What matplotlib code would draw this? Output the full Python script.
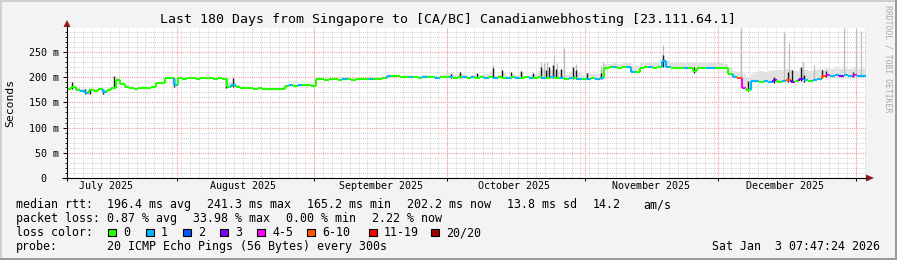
import numpy as np
import matplotlib
matplotlib.use('Agg')
import matplotlib.pyplot as plt
from matplotlib.collections import LineCollection
from matplotlib.patches import Polygon, Rectangle
import datetime as dt

W, H = 897, 260
MONO = 'DejaVu Sans Mono'

title = "Last 180 Days from Singapore to [CA/BC] Canadianwebhosting [23.111.64.1]"
end_time = dt.datetime(2026, 1, 3, 7, 47, 24)
n_days = 180
start_time = end_time - dt.timedelta(days=n_days)

# daily median rtt (ms)
median_ms = [
    176, 180, 175, 172, 168, 175, 173, 176, 170, 174, 178, 195, 186, 181, 179, 177, 178, 179, 178, 180,
    189, 189, 198, 199, 184, 198, 197, 198, 198, 197, 198, 199, 198, 197, 198, 197, 180, 184, 181, 179,
    178, 178, 177, 178, 177, 176, 177, 176, 177, 182, 184, 183, 184, 185, 184, 183, 196, 196, 195, 196,
    196, 195, 196, 196, 195, 196, 196, 197, 196, 196, 197, 198, 203, 203, 202, 200, 201, 200, 200, 199,
    200, 201, 200, 199, 200, 201, 200, 199, 201, 200, 199, 200, 199, 201, 199, 200, 198, 200, 199, 198,
    200, 199, 198, 200, 199, 198, 200, 199, 198, 200, 199, 198, 197, 198, 199, 197, 196, 197, 198, 197,
    198, 219, 220, 220, 219, 220, 220, 210, 211, 219, 220, 220, 219, 220, 232, 221, 219, 219, 218, 219,
    219, 212, 219, 219, 218, 219, 219, 219, 218, 206, 201, 199, 178, 175, 193, 192, 191, 193, 190, 194,
    191, 193, 195, 190, 193, 196, 194, 193, 195, 197, 203, 204, 203, 204, 203, 204, 203, 204, 203, 203,
]

# daily upper edge of the light smoke band (ms)
smoke_ms = [
    179, 182, 178, 176, 173, 178, 176, 178, 174, 177, 181, 198, 190, 184, 182, 180, 181, 182, 181, 183,
    191, 191, 201, 201, 199, 200, 200, 200, 200, 199, 200, 201, 200, 199, 200, 199, 190, 188, 184, 182,
    180, 180, 179, 180, 179, 178, 179, 178, 179, 185, 186, 186, 186, 187, 187, 186, 199, 198, 197, 198,
    198, 197, 198, 198, 197, 198, 198, 199, 198, 198, 199, 200, 205, 205, 204, 203, 204, 203, 203, 202,
    204, 205, 203, 203, 204, 206, 208, 204, 207, 206, 203, 204, 207, 204, 206, 210, 203, 205, 208, 203,
    207, 204, 208, 203, 205, 207, 212, 214, 213, 214, 212, 215, 205, 208, 213, 210, 205, 208, 207, 206,
    214, 226, 227, 228, 227, 228, 228, 222, 222, 228, 228, 229, 228, 230, 236, 232, 229, 228, 229, 228,
    229, 228, 229, 228, 229, 228, 229, 228, 227, 220, 212, 210, 206, 200, 206, 210, 212, 210, 212, 214,
    214, 214, 216, 214, 212, 216, 214, 212, 214, 216, 216, 218, 216, 218, 216, 218, 216, 218, 216, 216,
]

# loss colour index per day
loss_idx = [
    0, 0, 0, 1, 1, 0, 0, 0, 1, 0, 0, 0, 0, 0, 0, 0, 0, 0, 0, 0,
    0, 0, 0, 0, 1, 0, 0, 0, 0, 0, 0, 0, 0, 0, 0, 0, 0, 1, 0, 0,
    0, 0, 0, 0, 0, 0, 0, 0, 0, 0, 1, 0, 1, 0, 0, 0, 0, 0, 0, 0,
    0, 0, 1, 0, 0, 0, 0, 0, 1, 0, 0, 0, 1, 0, 0, 0, 0, 1, 0, 0,
    1, 0, 0, 1, 0, 0, 1, 0, 0, 1, 0, 1, 0, 0, 1, 0, 1, 0, 0, 1,
    0, 1, 0, 0, 1, 0, 0, 1, 0, 1, 0, 1, 0, 1, 0, 1, 0, 1, 0, 1,
    1, 0, 0, 1, 0, 0, 1, 1, 0, 0, 0, 1, 0, 0, 1, 1, 0, 0, 0, 1,
    0, 0, 0, 0, 1, 1, 0, 0, 0, 0, 1, 5, 4, 0, 1, 1, 0, 1, 1, 3,
    0, 1, 5, 3, 0, 3, 1, 0, 1, 1, 5, 4, 1, 1, 3, 1, 1, 4, 1, 1,
]

# thin grey smoke spikes (day, top ms)
spike_day = [95.9, 106.7, 107.4, 108.2, 109.6, 110.5, 111.9, 114.6, 120.2, 120.7, 134.2,
             151.8, 161.5, 162.6, 165.8, 168.3, 175.0, 177.8, 178.9, 179.9]
spike_top = [224, 230, 229, 231, 244, 228, 258, 226, 222, 230, 264,
             298, 290, 268, 230, 225, 298, 295, 292, 290]

# dark smoke strokes (day, low ms, high ms)
dark_day = [1.2, 4.0, 5.2, 8.0, 10.5, 24.0, 35.9, 37.3, 86.5, 88.5, 92.3, 95.9, 98.0, 100.1,
            102.2, 104.9, 106.7, 107.8, 108.5, 109.4, 110.2, 111.2, 113.9, 114.6, 117.2, 120.2,
            134.2, 141.2, 153.5, 159.3, 162.5, 163.4, 165.3, 166.0, 170.0, 171.0, 177.0]
dark_lo = [176, 166, 167, 167, 178, 181, 178, 180, 199, 199, 199, 199, 199, 198,
           198, 198, 198, 198, 198, 198, 198, 198, 197, 197, 197, 197,
           220, 208, 172, 188, 190, 190, 192, 190, 200, 200, 200]
dark_hi = [191, 176, 176, 176, 203, 199, 198, 198, 206, 210, 209, 218, 214, 210,
           212, 208, 221, 214, 221, 224, 216, 217, 221, 215, 208, 208,
           245, 220, 193, 201, 210, 215, 221, 205, 215, 212, 211]

loss_colors = ['#26ff00', '#00b8ff', '#0059ff', '#7e00ff', '#ff00ff', '#ff5500', '#ff0000', '#a10000']
loss_labels = ['0', '1', '2', '3', '4-5', '6-10', '11-19', '20/20']
ytick_vals = [0, 50, 100, 150, 200, 250]
ytick_labels = ['0  ', '50 m', '100 m', '150 m', '200 m', '250 m']
month_labels = ['July 2025', 'August 2025', 'September 2025', 'October 2025',
                'November 2025', 'December 2025']

legend_rtt = [(16, 'median rtt:'), (107, '196.4 ms avg'), (207, '241.3 ms max'),
              (307, '165.2 ms min'), (407, '202.2 ms now'), (507, '13.8 ms sd'),
              (593, '14.2'), (643, 'am/s')]
legend_loss = [(16, 'packet loss:'), (107, '0.87 % avg'), (193, '33.98 % max'),
               (286, '0.00 % min'), (372, '2.22 % now')]
probe_text = '20 ICMP Echo Pings (56 Bytes) every 300s'
date_text = 'Sat Jan  3 07:47:24 2026'


def day_of(t):
    return (t - start_time).total_seconds() / 86400.0


fig = plt.figure(figsize=(W / 100, H / 100), dpi=100, facecolor='#F3F3F3')

ax = fig.add_axes([67 / W, (H - 178) / H, 799 / W, 150 / H])
ax.set_facecolor('white')
ax.set_xlim(0, n_days)
ax.set_ylim(0, 297.6)
for s in ax.spines.values():
    s.set_visible(False)

# grid
minor_dash = (0, (1, 1))
for v in range(10, 300, 10):
    if v % 50:
        ax.axhline(v, color='#D4D4D4', lw=0.7, ls=minor_dash, zorder=0.5)
first = dt.datetime(2025, 7, 7)
t = first
while t < end_time:
    d = day_of(t)
    if d > 0:
        ax.axvline(d, color='#D4D4D4', lw=0.7, ls=minor_dash, zorder=0.5)
    t += dt.timedelta(days=2)
month_starts = [dt.datetime(2025, m, 1) for m in range(8, 13)] + [dt.datetime(2026, 1, 1)]
month_pos = [day_of(m) for m in month_starts]
for v in range(50, 300, 50):
    ax.axhline(v, color='#F2A0A0', lw=0.8, ls=minor_dash, zorder=0.6)
for d in month_pos:
    ax.axvline(d, color='#F2A0A0', lw=0.8, ls=minor_dash, zorder=0.6)

# ticks / labels
ax.set_yticks(ytick_vals)
ax.set_yticklabels(ytick_labels, fontfamily=MONO, fontsize=7.2)
ax.set_yticks(list(range(10, 300, 10)), minor=True)
ax.tick_params(axis='y', which='major', direction='out', length=3, width=0.7, pad=2.5, colors='black')
ax.tick_params(axis='y', which='minor', direction='out', length=1.5, width=0.6)
label_pos = [day_of(dt.datetime(2025, m, 16)) for m in range(7, 13)]
ax.set_xticks(month_pos)
ax.set_xticklabels([''] * len(month_pos))
ax.set_xticks(label_pos, minor=True)
ax.set_xticklabels(month_labels, minor=True, fontfamily=MONO, fontsize=7.2)
ax.tick_params(axis='x', which='major', direction='out', length=2.5, width=0.7)
ax.tick_params(axis='x', which='minor', length=0, pad=2.5)

days = np.arange(n_days)
med = np.array(median_ms, dtype=float)

# smoke band
ax.fill_between(np.arange(n_days + 1), np.append(med, med[-1]) - 1,
                np.append(smoke_ms, smoke_ms[-1]), step='post', color='#E2E2E2', lw=0, zorder=1)
# thin grey spikes
sp_base = [med[min(int(d), n_days - 1)] for d in spike_day]
ax.vlines(spike_day, sp_base, spike_top, colors='#BDBDBD', lw=0.9, zorder=1.2)
# dark strokes
ax.vlines(dark_day, dark_lo, dark_hi, colors='#1a1a1a', lw=1.0, zorder=1.5)

# median line coloured by loss
segs, cols = [], []
for i in days:
    segs.append([(i, med[i]), (i + 1, med[i])])
    cols.append(loss_colors[loss_idx[i]])
    if i + 1 < n_days:
        segs.append([(i + 1, med[i]), (i + 1, med[i + 1])])
        cols.append(loss_colors[loss_idx[i + 1]])
ax.add_collection(LineCollection(segs, colors=cols, linewidths=1.5, zorder=2, capstyle='butt'))

# overlay in pixel coordinates
ov = fig.add_axes([0, 0, 1, 1], zorder=10)
ov.set_xlim(0, W)
ov.set_ylim(H, 0)
ov.axis('off')
ov.patch.set_alpha(0)

# frame
ov.add_patch(Rectangle((0, 0), W, 2, color='#CFCFCF', lw=0))
ov.add_patch(Rectangle((0, 0), 2, H, color='#CFCFCF', lw=0))
ov.add_patch(Rectangle((0, H - 2), W, 2, color='#9A9A9A', lw=0))
ov.add_patch(Rectangle((W - 2, 0), 2, H, color='#9A9A9A', lw=0))

# axes lines and arrows
ov.plot([62, 867], [178, 178], color='black', lw=0.8, solid_capstyle='butt')
ov.plot([67, 67], [181, 26], color='black', lw=0.8, solid_capstyle='butt')
ov.add_patch(Polygon([(866, 174.5), (866, 181.5), (874, 178)], closed=True, color='#8B1A1A', lw=0))
ov.add_patch(Polygon([(63.5, 27), (70.5, 27), (67, 20)], closed=True, color='#8B1A1A', lw=0))

# texts
ov.text(448, 19, title, fontfamily=MONO, fontsize=9.5, ha='center', va='center')
ov.text(10, 103, 'Seconds', fontfamily=MONO, fontsize=8.2, rotation=90, ha='center', va='center')
ov.text(888, 5, 'RRDTOOL / TOBI OETIKER', fontfamily=MONO, fontsize=5.9, rotation=270,
        ha='center', va='top', color='#AAAAAA')

LEG = 8.37
for x, s in legend_rtt:
    ov.text(x, 204.5, s, fontfamily=MONO, fontsize=LEG, ha='left', va='center')
for x, s in legend_loss:
    ov.text(x, 218.5, s, fontfamily=MONO, fontsize=LEG, ha='left', va='center')
ov.text(16, 232.5, 'loss color:', fontfamily=MONO, fontsize=LEG, ha='left', va='center')
box_x = [108, 146, 183, 220, 257, 307, 369, 431]
for bx, c, lab in zip(box_x, loss_colors, loss_labels):
    ov.add_patch(Rectangle((bx, 228.5), 7.5, 7.5, facecolor=c, edgecolor='black', lw=0.8))
    ov.text(bx + 15, 232.5, lab, fontfamily=MONO, fontsize=LEG, ha='left', va='center')
ov.text(16, 246.5, 'probe:', fontfamily=MONO, fontsize=LEG, ha='left', va='center')
ov.text(107, 246.5, probe_text, fontfamily=MONO, fontsize=LEG, ha='left', va='center')
ov.text(880, 246.5, date_text, fontfamily=MONO, fontsize=LEG, ha='right', va='center')

fig.savefig('out.png', dpi=100, facecolor=fig.get_facecolor())
